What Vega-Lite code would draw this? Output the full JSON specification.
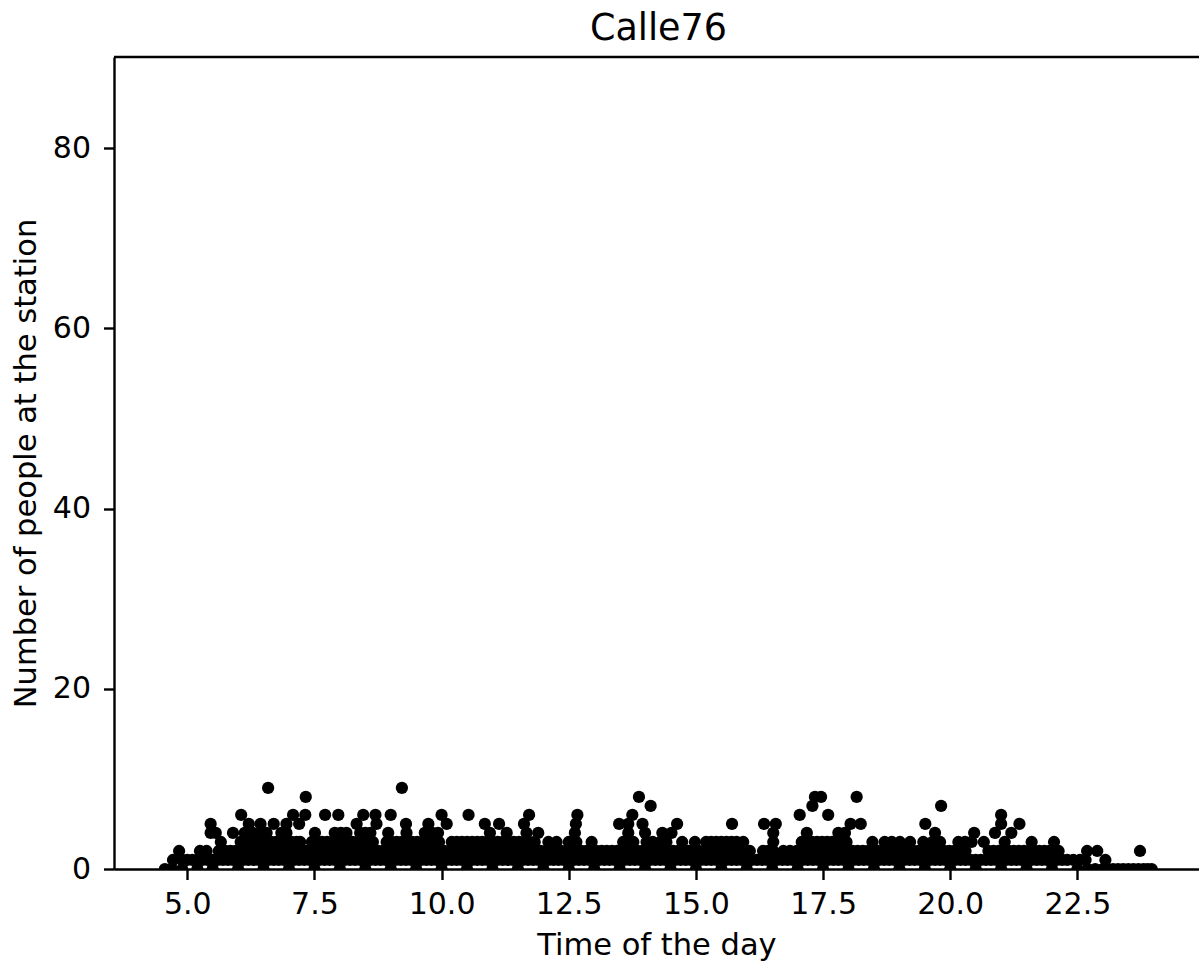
{"$schema":"https://vega.github.io/schema/vega-lite/v6.json","autosize":"none","padding":{"left":114,"top":57,"right":0,"bottom":96},"width":1085,"height":812,"background":"white","config":{"font":"DejaVu Sans","view":{"stroke":null}},"title":{"text":"Calle76","font":"DejaVu Sans","fontSize":36.5,"fontWeight":"normal","color":"black","anchor":"middle","offset":8,"dx":2},"layer":[{"data":{"values":[{"top":90.1}]},"mark":{"type":"rule","color":"black","strokeWidth":2.4},"encoding":{"y":{"field":"top","type":"quantitative","scale":{"domain":[0,90.1],"nice":false}}}},{"data":{"values":[
{"t":4.56,"n":0},{"t":4.7,"n":0},{"t":4.9,"n":0},{"t":5.2,"n":0},{"t":5.5,"n":0},{"t":6,"n":0},{"t":6.5,"n":0},{"t":7,"n":0},{"t":7.5,"n":0},{"t":8,"n":0},{"t":8.5,"n":0},{"t":9,"n":0},{"t":9.5,"n":0},{"t":10,"n":0},{"t":10.5,"n":0},{"t":11,"n":0},{"t":11.5,"n":0},{"t":12,"n":0},{"t":12.5,"n":0},{"t":13,"n":0},{"t":13.5,"n":0},{"t":14,"n":0},{"t":14.5,"n":0},{"t":15,"n":0},{"t":15.5,"n":0},{"t":16,"n":0},{"t":16.5,"n":0},{"t":17,"n":0},{"t":17.5,"n":0},{"t":18,"n":0},{"t":18.5,"n":0},{"t":19,"n":0},{"t":19.5,"n":0},{"t":20,"n":0},{"t":20.5,"n":0},{"t":21,"n":0},{"t":21.5,"n":0},{"t":22,"n":0},{"t":22.5,"n":0},{"t":22.7,"n":0},{"t":22.85,"n":0},{"t":23,"n":0},{"t":23.1,"n":0},{"t":23.2,"n":0},{"t":23.3,"n":0},{"t":23.4,"n":0},{"t":23.5,"n":0},{"t":23.6,"n":0},{"t":23.7,"n":0},{"t":23.8,"n":0},{"t":23.88,"n":0},{"t":23.96,"n":0},
{"t":4.72,"n":1},{"t":4.9,"n":1},{"t":5,"n":1},{"t":5.1,"n":1},{"t":5.2,"n":1},{"t":5.3,"n":1},{"t":5.4,"n":1},{"t":5.5,"n":1},{"t":5.6,"n":1},{"t":5.7,"n":1},{"t":5.8,"n":1},{"t":5.9,"n":1},{"t":6,"n":1},{"t":6.1,"n":1},{"t":6.2,"n":1},{"t":6.3,"n":1},{"t":6.4,"n":1},{"t":6.5,"n":1},{"t":6.6,"n":1},{"t":6.7,"n":1},{"t":6.8,"n":1},{"t":6.9,"n":1},{"t":7,"n":1},{"t":7.1,"n":1},{"t":7.2,"n":1},{"t":7.3,"n":1},{"t":7.4,"n":1},{"t":7.5,"n":1},{"t":7.6,"n":1},{"t":7.7,"n":1},{"t":7.8,"n":1},{"t":7.9,"n":1},{"t":8,"n":1},{"t":8.1,"n":1},{"t":8.2,"n":1},{"t":8.3,"n":1},{"t":8.4,"n":1},{"t":8.5,"n":1},{"t":8.6,"n":1},{"t":8.7,"n":1},{"t":8.8,"n":1},{"t":8.9,"n":1},{"t":9,"n":1},{"t":9.1,"n":1},{"t":9.2,"n":1},{"t":9.3,"n":1},{"t":9.4,"n":1},{"t":9.5,"n":1},{"t":9.6,"n":1},{"t":9.7,"n":1},{"t":9.8,"n":1},{"t":9.9,"n":1},{"t":10,"n":1},{"t":10.1,"n":1},{"t":10.2,"n":1},{"t":10.3,"n":1},{"t":10.4,"n":1},{"t":10.5,"n":1},{"t":10.6,"n":1},{"t":10.7,"n":1},{"t":10.8,"n":1},{"t":10.9,"n":1},{"t":11,"n":1},{"t":11.1,"n":1},{"t":11.2,"n":1},{"t":11.3,"n":1},{"t":11.4,"n":1},{"t":11.5,"n":1},{"t":11.6,"n":1},{"t":11.7,"n":1},{"t":11.8,"n":1},{"t":11.9,"n":1},{"t":12,"n":1},{"t":12.1,"n":1},{"t":12.2,"n":1},{"t":12.3,"n":1},{"t":12.4,"n":1},{"t":12.5,"n":1},{"t":12.6,"n":1},{"t":12.7,"n":1},{"t":12.8,"n":1},{"t":12.9,"n":1},{"t":13,"n":1},{"t":13.1,"n":1},{"t":13.2,"n":1},{"t":13.3,"n":1},{"t":13.4,"n":1},{"t":13.5,"n":1},{"t":13.6,"n":1},{"t":13.7,"n":1},{"t":13.8,"n":1},{"t":13.9,"n":1},{"t":14,"n":1},{"t":14.1,"n":1},{"t":14.2,"n":1},{"t":14.3,"n":1},{"t":14.4,"n":1},{"t":14.5,"n":1},{"t":14.6,"n":1},{"t":14.7,"n":1},{"t":14.8,"n":1},{"t":14.9,"n":1},{"t":15,"n":1},{"t":15.1,"n":1},{"t":15.2,"n":1},{"t":15.3,"n":1},{"t":15.4,"n":1},{"t":15.5,"n":1},{"t":15.6,"n":1},{"t":15.7,"n":1},{"t":15.8,"n":1},{"t":15.9,"n":1},{"t":16,"n":1},{"t":16.1,"n":1},{"t":16.2,"n":1},{"t":16.3,"n":1},{"t":16.4,"n":1},{"t":16.5,"n":1},{"t":16.6,"n":1},{"t":16.7,"n":1},{"t":16.8,"n":1},{"t":16.9,"n":1},{"t":17,"n":1},{"t":17.1,"n":1},{"t":17.2,"n":1},{"t":17.3,"n":1},{"t":17.4,"n":1},{"t":17.5,"n":1},{"t":17.6,"n":1},{"t":17.7,"n":1},{"t":17.8,"n":1},{"t":17.9,"n":1},{"t":18,"n":1},{"t":18.1,"n":1},{"t":18.2,"n":1},{"t":18.3,"n":1},{"t":18.4,"n":1},{"t":18.5,"n":1},{"t":18.6,"n":1},{"t":18.7,"n":1},{"t":18.8,"n":1},{"t":18.9,"n":1},{"t":19,"n":1},{"t":19.1,"n":1},{"t":19.2,"n":1},{"t":19.3,"n":1},{"t":19.4,"n":1},{"t":19.5,"n":1},{"t":19.6,"n":1},{"t":19.7,"n":1},{"t":19.8,"n":1},{"t":19.9,"n":1},{"t":20,"n":1},{"t":20.1,"n":1},{"t":20.2,"n":1},{"t":20.3,"n":1},{"t":20.4,"n":1},{"t":20.5,"n":1},{"t":20.6,"n":1},{"t":20.7,"n":1},{"t":20.8,"n":1},{"t":20.9,"n":1},{"t":21,"n":1},{"t":21.1,"n":1},{"t":21.2,"n":1},{"t":21.3,"n":1},{"t":21.4,"n":1},{"t":21.5,"n":1},{"t":21.6,"n":1},{"t":21.7,"n":1},{"t":21.8,"n":1},{"t":21.9,"n":1},{"t":22,"n":1},{"t":22.1,"n":1},{"t":22.2,"n":1},{"t":22.3,"n":1},{"t":22.42,"n":1},{"t":22.55,"n":1},{"t":22.66,"n":1},{"t":23.05,"n":1},
{"t":4.84,"n":2},{"t":5.25,"n":2},{"t":5.38,"n":2},{"t":5.62,"n":2},{"t":5.75,"n":2},{"t":5.85,"n":2},{"t":5.95,"n":2},{"t":6.05,"n":2},{"t":6.15,"n":2},{"t":6.25,"n":2},{"t":6.35,"n":2},{"t":6.45,"n":2},{"t":6.55,"n":2},{"t":6.65,"n":2},{"t":6.75,"n":2},{"t":6.85,"n":2},{"t":6.95,"n":2},{"t":7.05,"n":2},{"t":7.15,"n":2},{"t":7.25,"n":2},{"t":7.35,"n":2},{"t":7.45,"n":2},{"t":7.55,"n":2},{"t":7.65,"n":2},{"t":7.75,"n":2},{"t":7.85,"n":2},{"t":7.95,"n":2},{"t":8.05,"n":2},{"t":8.15,"n":2},{"t":8.25,"n":2},{"t":8.35,"n":2},{"t":8.45,"n":2},{"t":8.55,"n":2},{"t":8.65,"n":2},{"t":8.75,"n":2},{"t":8.85,"n":2},{"t":8.95,"n":2},{"t":9.05,"n":2},{"t":9.15,"n":2},{"t":9.25,"n":2},{"t":9.35,"n":2},{"t":9.45,"n":2},{"t":9.55,"n":2},{"t":9.65,"n":2},{"t":9.75,"n":2},{"t":9.85,"n":2},{"t":9.95,"n":2},{"t":10.05,"n":2},{"t":10.15,"n":2},{"t":10.25,"n":2},{"t":10.35,"n":2},{"t":10.45,"n":2},{"t":10.55,"n":2},{"t":10.65,"n":2},{"t":10.75,"n":2},{"t":10.85,"n":2},{"t":10.95,"n":2},{"t":11.05,"n":2},{"t":11.15,"n":2},{"t":11.25,"n":2},{"t":11.35,"n":2},{"t":11.45,"n":2},{"t":11.55,"n":2},{"t":11.65,"n":2},{"t":11.75,"n":2},{"t":11.85,"n":2},{"t":11.95,"n":2},{"t":12.05,"n":2},{"t":12.15,"n":2},{"t":12.25,"n":2},{"t":12.35,"n":2},{"t":12.45,"n":2},{"t":12.55,"n":2},{"t":12.65,"n":2},{"t":12.75,"n":2},{"t":12.85,"n":2},{"t":12.95,"n":2},{"t":13.05,"n":2},{"t":13.15,"n":2},{"t":13.25,"n":2},{"t":13.35,"n":2},{"t":13.45,"n":2},{"t":13.55,"n":2},{"t":13.65,"n":2},{"t":13.75,"n":2},{"t":13.85,"n":2},{"t":13.95,"n":2},{"t":14.05,"n":2},{"t":14.15,"n":2},{"t":14.25,"n":2},{"t":14.35,"n":2},{"t":14.45,"n":2},{"t":14.55,"n":2},{"t":14.65,"n":2},{"t":14.75,"n":2},{"t":14.85,"n":2},{"t":14.95,"n":2},{"t":15.05,"n":2},{"t":15.15,"n":2},{"t":15.25,"n":2},{"t":15.35,"n":2},{"t":15.45,"n":2},{"t":15.55,"n":2},{"t":15.65,"n":2},{"t":15.75,"n":2},{"t":15.85,"n":2},{"t":15.95,"n":2},{"t":16.06,"n":2},{"t":16.32,"n":2},{"t":16.42,"n":2},{"t":16.52,"n":2},{"t":16.72,"n":2},{"t":16.85,"n":2},{"t":16.98,"n":2},{"t":17.08,"n":2},{"t":17.18,"n":2},{"t":17.28,"n":2},{"t":17.38,"n":2},{"t":17.48,"n":2},{"t":17.58,"n":2},{"t":17.68,"n":2},{"t":17.78,"n":2},{"t":17.88,"n":2},{"t":17.98,"n":2},{"t":18.08,"n":2},{"t":18.18,"n":2},{"t":18.28,"n":2},{"t":18.38,"n":2},{"t":18.48,"n":2},{"t":18.58,"n":2},{"t":18.68,"n":2},{"t":18.78,"n":2},{"t":18.88,"n":2},{"t":18.98,"n":2},{"t":19.08,"n":2},{"t":19.18,"n":2},{"t":19.28,"n":2},{"t":19.38,"n":2},{"t":19.48,"n":2},{"t":19.58,"n":2},{"t":19.68,"n":2},{"t":19.78,"n":2},{"t":19.88,"n":2},{"t":19.98,"n":2},{"t":20.08,"n":2},{"t":20.18,"n":2},{"t":20.3,"n":2},{"t":20.75,"n":2},{"t":20.85,"n":2},{"t":20.95,"n":2},{"t":21.05,"n":2},{"t":21.15,"n":2},{"t":21.25,"n":2},{"t":21.35,"n":2},{"t":21.45,"n":2},{"t":21.55,"n":2},{"t":21.65,"n":2},{"t":21.75,"n":2},{"t":21.85,"n":2},{"t":21.95,"n":2},{"t":22.05,"n":2},{"t":22.13,"n":2},{"t":22.69,"n":2},{"t":22.89,"n":2},{"t":23.73,"n":2},
{"t":5.66,"n":3},{"t":6.05,"n":3},{"t":6.15,"n":3},{"t":6.25,"n":3},{"t":6.35,"n":3},{"t":6.45,"n":3},{"t":6.55,"n":3},{"t":6.65,"n":3},{"t":6.75,"n":3},{"t":6.85,"n":3},{"t":6.95,"n":3},{"t":7.05,"n":3},{"t":7.15,"n":3},{"t":7.22,"n":3},{"t":7.45,"n":3},{"t":7.55,"n":3},{"t":7.65,"n":3},{"t":7.75,"n":3},{"t":7.85,"n":3},{"t":7.95,"n":3},{"t":8.05,"n":3},{"t":8.15,"n":3},{"t":8.25,"n":3},{"t":8.35,"n":3},{"t":8.45,"n":3},{"t":8.55,"n":3},{"t":8.65,"n":3},{"t":8.92,"n":3},{"t":9.02,"n":3},{"t":9.12,"n":3},{"t":9.22,"n":3},{"t":9.32,"n":3},{"t":9.42,"n":3},{"t":9.52,"n":3},{"t":9.62,"n":3},{"t":9.72,"n":3},{"t":9.82,"n":3},{"t":9.95,"n":3},{"t":10.2,"n":3},{"t":10.3,"n":3},{"t":10.4,"n":3},{"t":10.5,"n":3},{"t":10.6,"n":3},{"t":10.7,"n":3},{"t":10.8,"n":3},{"t":10.9,"n":3},{"t":11,"n":3},{"t":11.1,"n":3},{"t":11.2,"n":3},{"t":11.3,"n":3},{"t":11.42,"n":3},{"t":11.52,"n":3},{"t":11.62,"n":3},{"t":11.72,"n":3},{"t":11.83,"n":3},{"t":12.1,"n":3},{"t":12.26,"n":3},{"t":12.5,"n":3},{"t":12.65,"n":3},{"t":12.95,"n":3},{"t":13.57,"n":3},{"t":13.67,"n":3},{"t":13.77,"n":3},{"t":14.03,"n":3},{"t":14.15,"n":3},{"t":14.3,"n":3},{"t":14.42,"n":3},{"t":14.73,"n":3},{"t":14.98,"n":3},{"t":15.2,"n":3},{"t":15.3,"n":3},{"t":15.4,"n":3},{"t":15.5,"n":3},{"t":15.6,"n":3},{"t":15.7,"n":3},{"t":15.8,"n":3},{"t":15.93,"n":3},{"t":16.52,"n":3},{"t":17.08,"n":3},{"t":17.18,"n":3},{"t":17.28,"n":3},{"t":17.38,"n":3},{"t":17.48,"n":3},{"t":17.58,"n":3},{"t":17.68,"n":3},{"t":17.78,"n":3},{"t":17.88,"n":3},{"t":17.96,"n":3},{"t":18.47,"n":3},{"t":18.71,"n":3},{"t":18.85,"n":3},{"t":19.01,"n":3},{"t":19.21,"n":3},{"t":19.47,"n":3},{"t":19.65,"n":3},{"t":19.8,"n":3},{"t":20.16,"n":3},{"t":20.29,"n":3},{"t":20.42,"n":3},{"t":20.66,"n":3},{"t":21.07,"n":3},{"t":21.6,"n":3},{"t":22.04,"n":3},
{"t":5.46,"n":4},{"t":5.56,"n":4},{"t":5.9,"n":4},{"t":6.13,"n":4},{"t":6.28,"n":4},{"t":6.46,"n":4},{"t":6.56,"n":4},{"t":6.85,"n":4},{"t":6.95,"n":4},{"t":7.51,"n":4},{"t":7.9,"n":4},{"t":8.02,"n":4},{"t":8.13,"n":4},{"t":8.4,"n":4},{"t":8.5,"n":4},{"t":8.6,"n":4},{"t":8.95,"n":4},{"t":9.31,"n":4},{"t":9.67,"n":4},{"t":9.82,"n":4},{"t":9.93,"n":4},{"t":10.95,"n":4},{"t":11.28,"n":4},{"t":11.67,"n":4},{"t":11.9,"n":4},{"t":12.62,"n":4},{"t":13.67,"n":4},{"t":14,"n":4},{"t":14.34,"n":4},{"t":14.52,"n":4},{"t":16.52,"n":4},{"t":17.18,"n":4},{"t":17.8,"n":4},{"t":17.93,"n":4},{"t":19.7,"n":4},{"t":20.47,"n":4},{"t":20.88,"n":4},{"t":21.2,"n":4},
{"t":5.46,"n":5},{"t":6.21,"n":5},{"t":6.44,"n":5},{"t":6.7,"n":5},{"t":6.95,"n":5},{"t":7.2,"n":5},{"t":8.33,"n":5},{"t":8.72,"n":5},{"t":9.3,"n":5},{"t":9.74,"n":5},{"t":10.1,"n":5},{"t":10.85,"n":5},{"t":11.13,"n":5},{"t":11.62,"n":5},{"t":12.64,"n":5},{"t":13.49,"n":5},{"t":13.67,"n":5},{"t":13.95,"n":5},{"t":14.63,"n":5},{"t":15.71,"n":5},{"t":16.34,"n":5},{"t":16.57,"n":5},{"t":18.04,"n":5},{"t":18.24,"n":5},{"t":19.51,"n":5},{"t":21,"n":5},{"t":21.36,"n":5},
{"t":6.06,"n":6},{"t":7.08,"n":6},{"t":7.32,"n":6},{"t":7.71,"n":6},{"t":7.97,"n":6},{"t":8.46,"n":6},{"t":8.7,"n":6},{"t":9,"n":6},{"t":10,"n":6},{"t":10.53,"n":6},{"t":11.72,"n":6},{"t":12.67,"n":6},{"t":13.75,"n":6},{"t":17.04,"n":6},{"t":17.6,"n":6},{"t":21,"n":6},
{"t":14.11,"n":7},{"t":17.29,"n":7},{"t":19.82,"n":7},
{"t":7.33,"n":8},{"t":13.88,"n":8},{"t":17.34,"n":8},{"t":17.46,"n":8},{"t":18.16,"n":8},
{"t":6.59,"n":9},{"t":9.22,"n":9}
]},"mark":{"type":"point","shape":"circle","filled":true,"color":"black","opacity":1,"size":150,"clip":true},"encoding":{"x":{"field":"t","type":"quantitative","scale":{"domain":[3.56,24.89],"nice":false,"zero":false},"axis":{"orient":"bottom","values":[5,7.5,10,12.5,15,17.5,20,22.5],"format":".1f","grid":false,"title":"Time of the day","titleFont":"DejaVu Sans","titleFontSize":30.5,"titleFontWeight":"normal","titleColor":"black","titlePadding":11,"labelFont":"DejaVu Sans","labelFontSize":30,"labelColor":"black","labelPadding":10,"labelFlush":false,"labelOverlap":false,"tickColor":"black","tickSize":10.5,"tickWidth":2.4,"domainColor":"black","domainWidth":2.4}},"y":{"field":"n","type":"quantitative","scale":{"domain":[0,90.1],"nice":false},"axis":{"values":[0,20,40,60,80],"grid":false,"title":"Number of people at the station","titleFont":"DejaVu Sans","titleFontSize":30.5,"titleFontWeight":"normal","titleColor":"black","titlePadding":11,"labelFont":"DejaVu Sans","labelFontSize":30,"labelColor":"black","labelPadding":13,"tickColor":"black","tickSize":10.5,"tickWidth":2.4,"domainColor":"black","domainWidth":2.4}}}}]}
